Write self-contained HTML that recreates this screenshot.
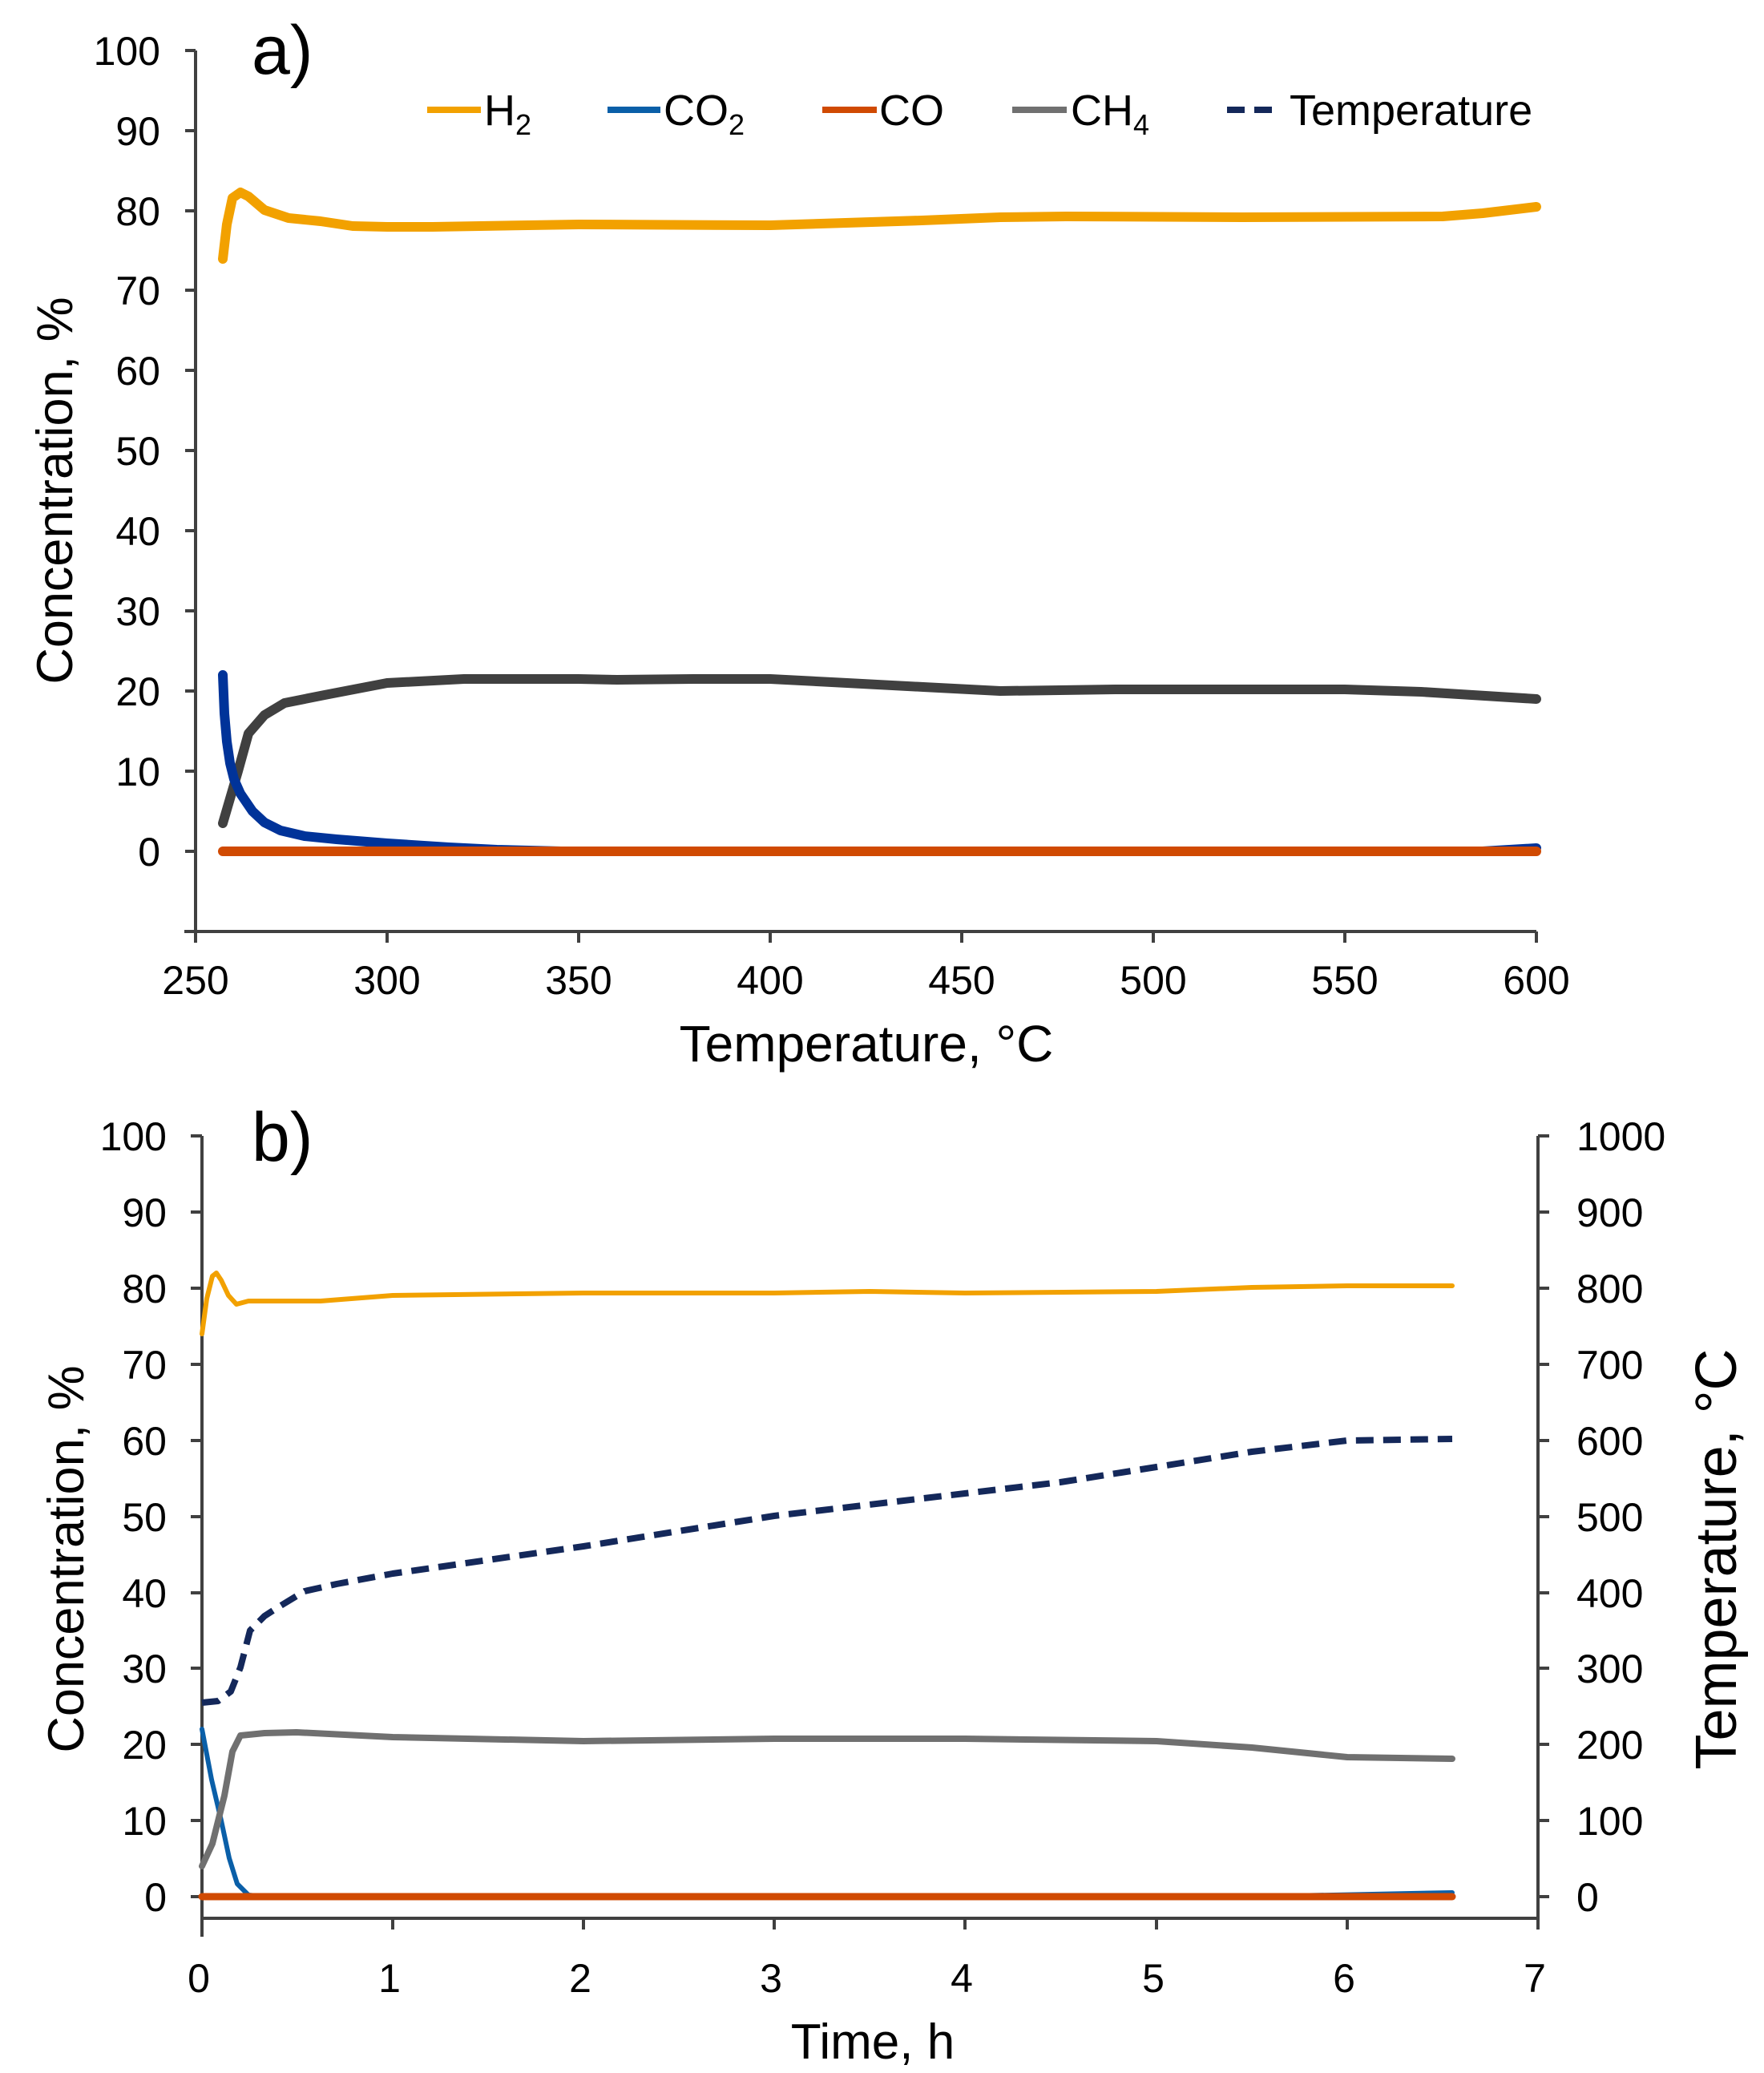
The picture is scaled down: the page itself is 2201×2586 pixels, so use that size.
<!DOCTYPE html>
<html><head><meta charset="utf-8"><style>
html,body{margin:0;padding:0;background:#fff}
svg{display:block}
text{font-family:"Liberation Sans",sans-serif;fill:#000}
</style></head><body>
<svg width="2201" height="2586" viewBox="0 0 2201 2586" xmlns="http://www.w3.org/2000/svg">
<g stroke="#404040" stroke-width="4" fill="none">
<line x1="244" y1="63" x2="244" y2="1176"/>
<line x1="230" y1="1162" x2="1917" y2="1162"/>
<path d="M231 63H244M231 163H244M231 263H244M231 362H244M231 462H244M231 562H244M231 662H244M231 762H244M231 862H244M231 962H244M231 1062H244"/>
<path d="M483 1162V1176M722 1162V1176M961 1162V1176M1200 1162V1176M1439 1162V1176M1678 1162V1176M1917 1162V1176"/>
<line x1="252" y1="1417" x2="252" y2="2416"/>
<line x1="1919" y1="1417" x2="1919" y2="2393"/>
<line x1="252" y1="2393" x2="1919" y2="2393"/>
<path d="M238 1417H252M238 1512H252M238 1607H252M238 1702H252M238 1797H252M238 1892H252M238 1987H252M238 2081H252M238 2176H252M238 2271H252M238 2366H252"/>
<path d="M1919 1417H1933M1919 1512H1933M1919 1607H1933M1919 1702H1933M1919 1797H1933M1919 1892H1933M1919 1987H1933M1919 2081H1933M1919 2176H1933M1919 2271H1933M1919 2366H1933"/>
<path d="M490 2393V2407M728 2393V2407M966 2393V2407M1204 2393V2407M1443 2393V2407M1681 2393V2407M1919 2393V2407"/>
</g>
<g font-size="50" text-anchor="end">
<text x="200" y="81">100</text><text x="200" y="181">90</text><text x="200" y="281">80</text><text x="200" y="380">70</text><text x="200" y="480">60</text><text x="200" y="580">50</text><text x="200" y="680">40</text><text x="200" y="780">30</text><text x="200" y="880">20</text><text x="200" y="980">10</text><text x="200" y="1080">0</text>
</g>
<g font-size="50" text-anchor="middle">
<text x="244" y="1240">250</text><text x="483" y="1240">300</text><text x="722" y="1240">350</text><text x="961" y="1240">400</text><text x="1200" y="1240">450</text><text x="1439" y="1240">500</text><text x="1678" y="1240">550</text><text x="1917" y="1240">600</text>
</g>
<text x="1081" y="1324" font-size="64" text-anchor="middle">Temperature, °C</text>
<text transform="translate(90,612) rotate(-90)" font-size="63" text-anchor="middle">Concentration, %</text>
<text x="314" y="92" font-size="86">a)</text>
<g stroke-width="8" fill="none">
<line x1="533" y1="137" x2="600" y2="137" stroke="#f2a100"/>
<line x1="758" y1="137" x2="824" y2="137" stroke="#0a5fa8"/>
<line x1="1026" y1="137" x2="1094" y2="137" stroke="#d04a02"/>
<line x1="1263" y1="137" x2="1331" y2="137" stroke="#707070"/>
<line x1="1531" y1="137" x2="1591" y2="137" stroke="#14285a" stroke-dasharray="22,12"/>
</g>
<g font-size="54">
<text x="604" y="156">H<tspan font-size="36" dy="12">2</tspan></text>
<text x="828" y="156">CO<tspan font-size="36" dy="12">2</tspan></text>
<text x="1097" y="156">CO</text>
<text x="1336" y="156">CH<tspan font-size="36" dy="12">4</tspan></text>
<text x="1609" y="156">Temperature</text>
</g>
<g fill="none" stroke-linejoin="round" stroke-linecap="round" stroke-width="12">
<polyline stroke="#404040" points="278,1027 297,962 310,915 330,892 355,877 405,867 483,852 579,847 722,847 770,848 865,847 961,847 1057,852 1152,857 1248,862 1391,860 1678,860 1773,863 1917,872"/>
<polyline stroke="#003399" points="278,842 280,890 283,925 287,952 292,972 300,990 315,1012 330,1026 350,1036 380,1043 420,1047 483,1052 560,1057 620,1060 700,1062 1850,1062 1917,1058"/>
<polyline stroke="#d04a02" points="278,1062 1917,1062"/>
<polyline stroke="#f2a100" points="278,323 283,280 290,247 300,240 310,245 330,262 360,272 400,276 440,282 483,283 540,283 722,280 961,281 1150,275 1248,271 1330,270 1550,271 1800,270 1850,266 1917,258"/>
</g>
<g font-size="50" text-anchor="end">
<text x="208" y="1435">100</text><text x="208" y="1530">90</text><text x="208" y="1625">80</text><text x="208" y="1720">70</text><text x="208" y="1815">60</text><text x="208" y="1910">50</text><text x="208" y="2005">40</text><text x="208" y="2099">30</text><text x="208" y="2194">20</text><text x="208" y="2289">10</text><text x="208" y="2384">0</text>
</g>
<g font-size="50" text-anchor="start">
<text x="1967" y="1435">1000</text><text x="1967" y="1530">900</text><text x="1967" y="1625">800</text><text x="1967" y="1720">700</text><text x="1967" y="1815">600</text><text x="1967" y="1910">500</text><text x="1967" y="2005">400</text><text x="1967" y="2099">300</text><text x="1967" y="2194">200</text><text x="1967" y="2289">100</text><text x="1967" y="2384">0</text>
</g>
<g font-size="50" text-anchor="middle">
<text x="248" y="2485">0</text><text x="486" y="2485">1</text><text x="724" y="2485">2</text><text x="962" y="2485">3</text><text x="1200" y="2485">4</text><text x="1439" y="2485">5</text><text x="1677" y="2485">6</text><text x="1915" y="2485">7</text>
</g>
<text x="1089" y="2568" font-size="62" text-anchor="middle">Time, h</text>
<text transform="translate(104,1945) rotate(-90)" font-size="63" text-anchor="middle">Concentration, %</text>
<text transform="translate(2166,1945) rotate(-90)" font-size="72" text-anchor="middle">Temperature, °C</text>
<text x="314" y="1448" font-size="86">b)</text>
<g fill="none" stroke-linejoin="round" stroke-linecap="round">
<polyline stroke="#14285a" stroke-width="8" stroke-linecap="butt" stroke-dasharray="22,12" points="252,2124 272,2122 288,2110 300,2080 312,2034 330,2016 347,2005 380,1985 420,1976 490,1963 728,1929 966,1891 1204,1863 1323,1849 1443,1830 1562,1811 1681,1797 1812,1795"/>
<polyline stroke="#0a5fa8" stroke-width="6" points="252,2157 264,2220 276,2271 286,2318 296,2350 310,2364 330,2366 1560,2366 1812,2361"/>
<polyline stroke="#d04a02" stroke-width="9" points="252,2366 1812,2366"/>
<polyline stroke="#707070" stroke-width="8" points="252,2328 265,2300 280,2240 290,2185 300,2165 330,2162 370,2161 490,2167 728,2172 966,2169 1204,2169 1443,2172 1562,2180 1681,2192 1812,2194"/>
<polyline stroke="#f2a100" stroke-width="6" points="252,1664 258,1620 265,1592 270,1588 276,1597 285,1616 295,1627 310,1623 330,1623 400,1623 490,1616 728,1613 966,1613 1085,1611 1204,1613 1443,1611 1562,1606 1681,1604 1812,1604"/>
</g>
</svg>
</body></html>
